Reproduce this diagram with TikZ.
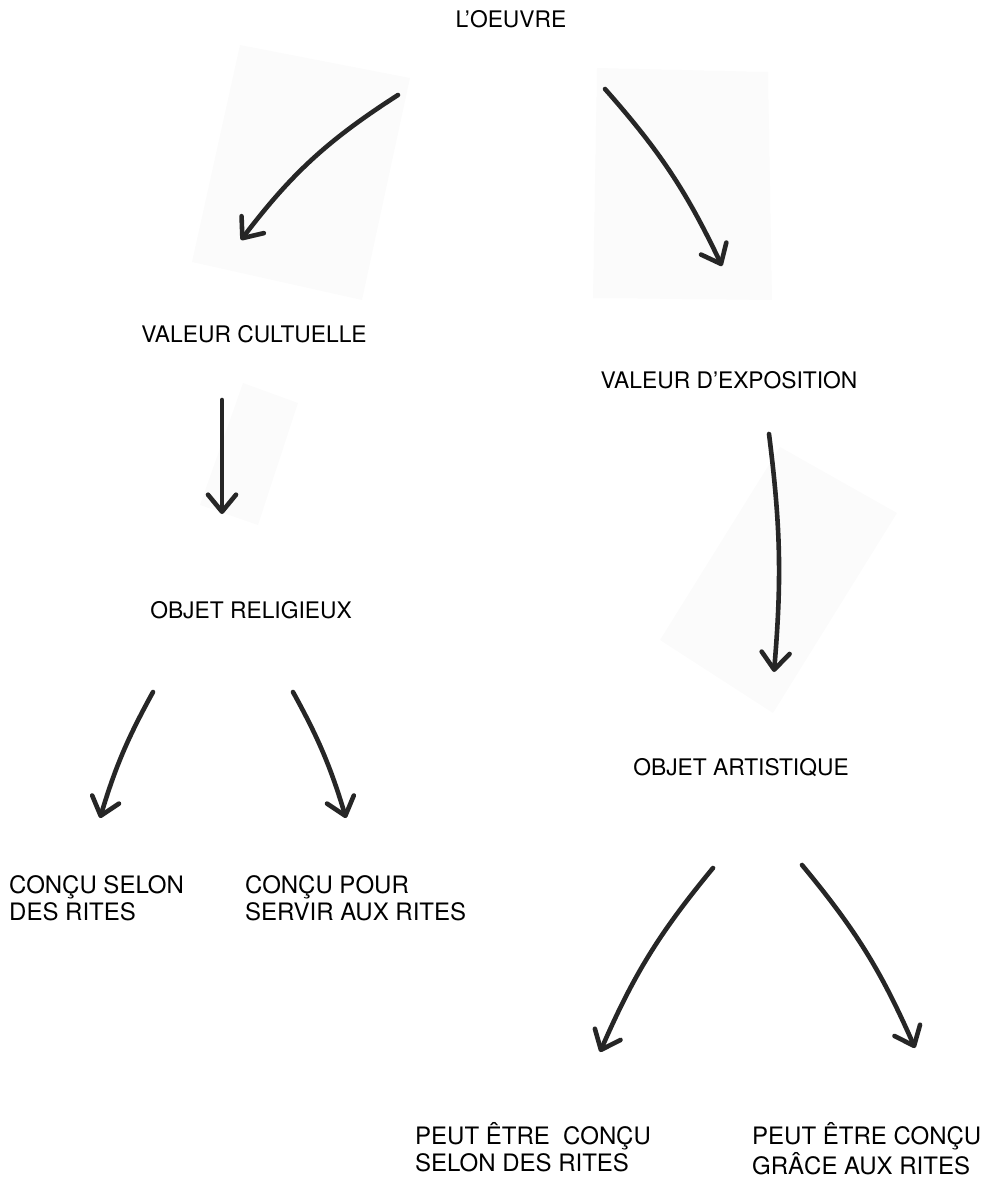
\documentclass[tikz,border=0pt]{standalone}
\usepackage{fontspec}
\setmainfont{TeX Gyre Heros}
\usetikzlibrary{arrows.meta}
\definecolor{ink}{HTML}{262626}
\definecolor{paper}{HTML}{FBFBFB}
\tikzset{
  lbl/.style={inner sep=0pt, anchor=base, font=\fontsize{22.8}{27}\selectfont},
  blk/.style={inner sep=0pt, anchor=base west, font=\fontsize{24}{27}\selectfont},
  sketch/.style={draw=ink, line width=4.6pt, line cap=round, line join=round,
    -{Straight Barb[length=17pt,width=28pt,line cap=round,line join=round]}},
  sheet/.style={fill=paper, draw=none}
}
\begin{document}
\begin{tikzpicture}[x=1pt,y=-1pt]
\useasboundingbox (0,0) rectangle (991,1194);
% faint paper patches behind the hand-drawn arrows
\fill[sheet] (240,45) -- (410,78) -- (362,300) -- (192,262) -- cycle;
\fill[sheet] (597,68) -- (768,72) -- (772,300) -- (593,298) -- cycle;
\fill[sheet] (243,383) -- (298,403) -- (258,525) -- (200,505) -- cycle;
\fill[sheet] (780,447) -- (897,513) -- (773,713) -- (660,640) -- cycle;
% texts
\node[lbl] (oeuvre) at (511,27) {L’OEUVRE};
\node[lbl] (cult) at (254,342) {VALEUR CULTUELLE};
\node[lbl] (expo) at (729,388) {VALEUR D’EXPOSITION};
\node[lbl] (relig) at (251,618) {OBJET RELIGIEUX};
\node[lbl] (artis) at (741,775) {OBJET ARTISTIQUE};
\node[blk] (cs) at (9,893) {\begin{tabular}[t]{@{}l@{}}CONÇU SELON\\DES RITES\end{tabular}};
\node[blk] (cp) at (245,893) {\begin{tabular}[t]{@{}l@{}}CONÇU POUR\\SERVIR AUX RITES\end{tabular}};
\node[blk] (ps) at (415,1144) {\begin{tabular}[t]{@{}l@{}}PEUT ÊTRE\ \ CONÇU\\SELON DES RITES\end{tabular}};
\node[blk] (pg) at (752,1144) {\begin{tabular}[t]{@{}l@{}}PEUT ÊTRE CONÇU\\GRÂCE AUX RITES\end{tabular}};
% arrow ends
\coordinate (a1s) at (398,95);  \coordinate (a1e) at (241,240);
\coordinate (a2s) at (605,89);  \coordinate (a2e) at (722,266);
\coordinate (a3s) at (222,400); \coordinate (a3e) at (222,514);
\coordinate (a4s) at (769,434); \coordinate (a4e) at (774,672);
\coordinate (a5s) at (153,692); \coordinate (a5e) at (100,818);
\coordinate (a6s) at (293,692); \coordinate (a6e) at (346,818);
\coordinate (a7s) at (713,868); \coordinate (a7e) at (600,1052);
\coordinate (a8s) at (802,865); \coordinate (a8e) at (915,1048);
% arrows
\draw[sketch] (a1s) to[bend right=10] (a1e);
\draw[sketch] (a2s) to[bend left=8] (a2e);
\draw[sketch] (a3s) -- (a3e);
\draw[sketch] (a4s) to[bend left=6] (a4e);
\draw[sketch] (a5s) to[bend right=6] (a5e);
\draw[sketch] (a6s) to[bend left=6] (a6e);
\draw[sketch] (a7s) to[bend right=8] (a7e);
\draw[sketch] (a8s) to[bend left=8] (a8e);
\end{tikzpicture}
\end{document}
